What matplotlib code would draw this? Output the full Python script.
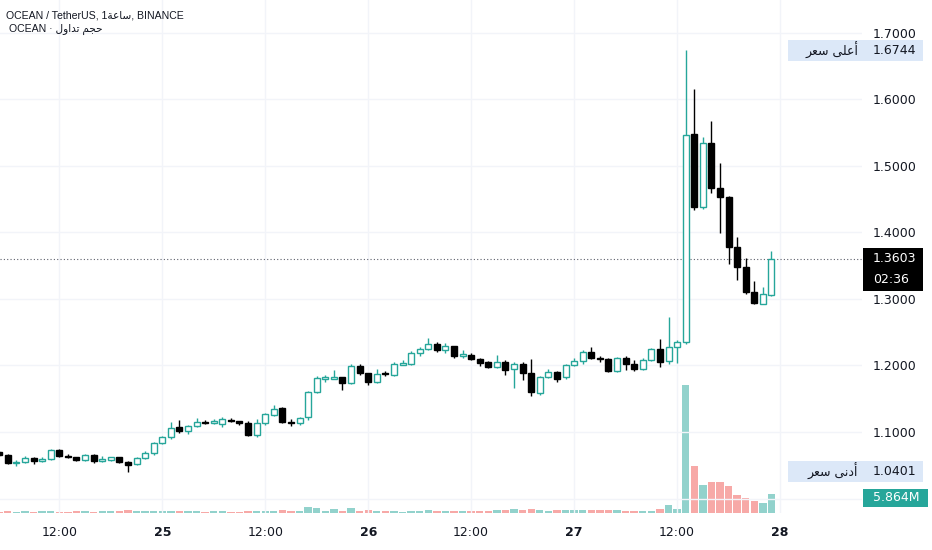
import matplotlib
matplotlib.use("Agg")
import matplotlib.pyplot as plt
import matplotlib.dates as mdates
import matplotlib.transforms as mtransforms
from matplotlib.patches import Rectangle
import pandas as pd

# hourly candles, 24 Nov 05:00 -> 27 Nov 23:00
times = pd.date_range("2023-11-24 05:00", periods=91, freq="h")

opens = [1.070, 1.065, 1.053, 1.055, 1.061, 1.056, 1.060, 1.073, 1.064, 1.062,
         1.058, 1.065, 1.057, 1.058, 1.062, 1.055, 1.052, 1.061, 1.068, 1.083,
         1.092, 1.107, 1.101, 1.109, 1.115, 1.114, 1.112, 1.118, 1.116, 1.113,
         1.095, 1.113, 1.126, 1.136, 1.115, 1.113, 1.122, 1.160, 1.180, 1.180,
         1.182, 1.174, 1.199, 1.188, 1.175, 1.189, 1.186, 1.201, 1.203, 1.219,
         1.225, 1.232, 1.224, 1.229, 1.215, 1.216, 1.210, 1.205, 1.198, 1.205,
         1.195, 1.202, 1.189, 1.159, 1.183, 1.190, 1.182, 1.201, 1.207, 1.221,
         1.211, 1.210, 1.192, 1.212, 1.202, 1.195, 1.209, 1.225, 1.207, 1.228,
         1.235, 1.548, 1.438, 1.534, 1.467, 1.453, 1.378, 1.348, 1.310, 1.293,
         1.306]
highs = [1.072, 1.067, 1.058, 1.064, 1.063, 1.062, 1.075, 1.074, 1.067, 1.063,
         1.067, 1.067, 1.064, 1.063, 1.063, 1.056, 1.062, 1.071, 1.085, 1.094,
         1.115, 1.118, 1.111, 1.121, 1.118, 1.119, 1.122, 1.121, 1.117, 1.116,
         1.120, 1.129, 1.140, 1.138, 1.120, 1.123, 1.162, 1.184, 1.185, 1.193,
         1.183, 1.203, 1.202, 1.189, 1.195, 1.192, 1.206, 1.208, 1.222, 1.228,
         1.242, 1.235, 1.234, 1.230, 1.224, 1.219, 1.211, 1.207, 1.216, 1.209,
         1.205, 1.206, 1.210, 1.184, 1.194, 1.191, 1.203, 1.212, 1.223, 1.228,
         1.215, 1.211, 1.213, 1.214, 1.209, 1.211, 1.227, 1.240, 1.273, 1.238,
         1.6744, 1.616, 1.544, 1.567, 1.505, 1.455, 1.393, 1.362, 1.327, 1.318,
         1.372]
lows = [1.064, 1.052, 1.049, 1.053, 1.052, 1.055, 1.058, 1.063, 1.061, 1.056,
        1.057, 1.054, 1.055, 1.057, 1.054, 1.0401, 1.051, 1.060, 1.066, 1.082,
        1.090, 1.099, 1.097, 1.108, 1.112, 1.112, 1.108, 1.115, 1.111, 1.094,
        1.093, 1.111, 1.124, 1.113, 1.109, 1.110, 1.118, 1.158, 1.175, 1.179,
        1.163, 1.172, 1.186, 1.171, 1.174, 1.184, 1.184, 1.200, 1.201, 1.215,
        1.223, 1.220, 1.219, 1.212, 1.211, 1.208, 1.199, 1.196, 1.196, 1.185,
        1.166, 1.178, 1.154, 1.156, 1.181, 1.175, 1.180, 1.199, 1.203, 1.210,
        1.205, 1.190, 1.190, 1.193, 1.192, 1.193, 1.207, 1.198, 1.203, 1.204,
        1.233, 1.434, 1.436, 1.459, 1.399, 1.353, 1.329, 1.308, 1.293, 1.292,
        1.304]
closes = [1.065, 1.053, 1.055, 1.061, 1.056, 1.060, 1.073, 1.064, 1.063, 1.058,
          1.065, 1.056, 1.059, 1.062, 1.055, 1.050, 1.061, 1.068, 1.083, 1.092,
          1.106, 1.101, 1.109, 1.115, 1.114, 1.116, 1.119, 1.117, 1.113, 1.095,
          1.113, 1.127, 1.135, 1.115, 1.113, 1.121, 1.160, 1.181, 1.182, 1.182,
          1.173, 1.199, 1.188, 1.175, 1.187, 1.187, 1.202, 1.204, 1.219, 1.225,
          1.232, 1.224, 1.230, 1.215, 1.217, 1.210, 1.204, 1.198, 1.205, 1.193,
          1.202, 1.189, 1.160, 1.183, 1.190, 1.180, 1.201, 1.207, 1.220, 1.212,
          1.210, 1.192, 1.211, 1.202, 1.195, 1.209, 1.225, 1.205, 1.228, 1.235,
          1.547, 1.438, 1.535, 1.467, 1.453, 1.378, 1.348, 1.310, 1.294, 1.307,
          1.3603]
# volume in millions
volumes = [0.4, 0.5, 0.4, 0.5, 0.4, 0.5, 0.5, 0.4, 0.4, 0.5,
           0.5, 0.4, 0.5, 0.5, 0.6, 0.83, 0.7, 0.7, 0.7, 0.7,
           0.7, 0.7, 0.7, 0.5, 0.4, 0.5, 0.6, 0.4, 0.4, 0.5,
           0.5, 0.6, 0.7, 0.8, 0.5, 0.6, 1.85, 1.64, 0.5, 1.23,
           0.7, 1.45, 0.7, 0.83, 0.5, 0.5, 0.7, 0.4, 0.5, 0.7,
           1.0, 0.7, 0.7, 0.7, 0.5, 0.5, 0.7, 0.6, 1.0, 1.0,
           1.23, 0.8, 1.33, 1.0, 0.6, 0.8, 1.0, 0.8, 1.0, 0.8,
           0.8, 1.0, 1.0, 0.7, 0.7, 0.7, 0.7, 1.3, 2.5, 1.3,
           39.5, 14.5, 8.5, 9.6, 9.6, 8.3, 5.5, 4.6, 3.6, 3.1,
           5.864]

grid_prices = [1.0, 1.1, 1.2, 1.3, 1.4, 1.5, 1.6, 1.7]
price_ticks = [1.1, 1.2, 1.3, 1.4, 1.5, 1.6, 1.7]  # 1.0000 sits under the volume tag
time_ticks = pd.to_datetime(["2023-11-24 12:00", "2023-11-25 00:00", "2023-11-25 12:00",
                             "2023-11-26 00:00", "2023-11-26 12:00", "2023-11-27 00:00",
                             "2023-11-27 12:00", "2023-11-28 00:00"])
time_labels = ["12:00", "25", "12:00", "26", "12:00", "27", "12:00", "28"]

high_label = 1.6744
low_label = 1.0401
last_price = 1.3603
countdown = "02:36"
last_volume = "5.864M"

# arabic strings, pre-shaped in visual order
ar_hour = "\uFE94\uFECB\uFE8E\uFEB3"
ar_volume = "\uFEDD\uFEED\uFE8D\uFEAA\uFE97 \uFEE2\uFEA0\uFEA3"
ar_high = "\uFEAE\uFECC\uFEB3 \uFEF0\uFEE0\uFECB\uFE83"
ar_low = "\uFEAE\uFECC\uFEB3 \uFEF0\uFEE7\uFEA9\uFE83"

UP = "#26a69a"
DOWN = "#000000"
TXT = "#131722"
GRID = "#f2f4f9"

W, H = 932, 550
fig = plt.figure(figsize=(W / 100, H / 100), dpi=100)
rect = [0, 37 / H, 862 / W, 513 / H]

xnum = mdates.date2num(times)
day0 = mdates.date2num(pd.Timestamp("2023-11-24"))
xlim = (day0 + 5.09 / 24, day0 + 105.55 / 24)
ylim = (0.9782, 1.7496)

# volume pane underneath
axv = fig.add_axes(rect, zorder=0)
vcols = ["#92d2cc" if c >= o else "#f7a9a7" for o, c in zip(opens, closes)]
axv.bar(xnum, volumes, width=0.86 / 24, color=vcols, linewidth=0)
axv.set_xlim(xlim)
axv.set_ylim(0, 158.3)
axv.axis("off")

ax = fig.add_axes(rect, zorder=1)
ax.set_facecolor("none")
ax.set_xlim(xlim)
ax.set_ylim(ylim)
for s in ax.spines.values():
    s.set_visible(False)

for t in grid_prices:
    ax.axhline(t, color=GRID, lw=1, zorder=0)
for t in mdates.date2num(time_ticks):
    ax.axvline(t, color=GRID, lw=1, zorder=0)

# candles
bw = 0.7 / 24
for x, o, h, l, c in zip(xnum, opens, highs, lows, closes):
    up = c >= o
    col = UP if up else DOWN
    ax.vlines(x, l, h, color=col, lw=1, zorder=2)
    ax.bar(x, max(abs(c - o), 0.0008), bottom=min(o, c), width=bw,
           facecolor="white" if up else DOWN, edgecolor=col, lw=1, zorder=3)

ax.axhline(last_price, color="#5d606b", lw=0.8, ls=(0, (1, 2)), zorder=1)

ax.yaxis.tick_right()
ax.set_yticks(price_ticks)
ax.set_yticklabels(["%.4f" % t for t in price_ticks])
ax.tick_params(axis="y", length=0, pad=8, labelsize=9, labelcolor=TXT)
ax.set_xticks(mdates.date2num(time_ticks))
ax.set_xticklabels(time_labels)
ax.tick_params(axis="x", length=0, pad=9, labelsize=9, labelcolor=TXT)
for lab in ax.get_xticklabels():
    if ":" not in lab.get_text():
        lab.set_fontweight("bold")

# labels on the price scale
tr = mtransforms.blended_transform_factory(fig.transFigure, ax.transData)
px = 1 / 665  # price per pixel
fx = lambda x: x / W

for val, ar in [(high_label, ar_high), (low_label, ar_low)]:
    fig.add_artist(Rectangle((fx(788), val - 10.5 * px), fx(135), 21 * px,
                             transform=tr, facecolor="#dce8f8", edgecolor="none", zorder=5))
    fig.text(fx(873), val, "%.4f" % val, transform=tr, ha="left", va="center",
             fontsize=9, color=TXT, zorder=6)
    fig.text(fx(858), val, ar, transform=tr, ha="right", va="center",
             fontsize=9, color=TXT, zorder=6, family="DejaVu Sans")

fig.add_artist(Rectangle((fx(863), last_price - 32 * px), fx(60), 43 * px,
                         transform=tr, facecolor="black", edgecolor="none", zorder=5))
fig.text(fx(873), last_price, "%.4f" % last_price, transform=tr, ha="left", va="center",
         fontsize=9, color="white", zorder=6)
fig.text(fx(873), last_price - 21 * px, countdown, transform=tr, ha="left", va="center",
         fontsize=9, color="white", zorder=6)

trv = mtransforms.blended_transform_factory(fig.transFigure, axv.transData)
vpx = 158.3 / 513
fig.add_artist(Rectangle((fx(863), 5.864 - 13 * vpx), fx(65), 18 * vpx,
                         transform=trv, facecolor=UP, edgecolor="none", zorder=5))
fig.text(fx(873), 5.864 - 4 * vpx, last_volume, transform=trv, ha="left", va="center",
         fontsize=9, color="white", zorder=6)

# header legend
hdr = ["Liberation Sans", "DejaVu Sans"]
fig.text(fx(6), 1 - 15 / H, "OCEAN / TetherUS, 1" + ar_hour + ", BINANCE",
         ha="left", va="center", fontsize=7.6, color=TXT, family=hdr)
fig.text(fx(9), 1 - 29 / H, "OCEAN \u00b7 " + ar_volume,
         ha="left", va="center", fontsize=7.6, color=TXT, family=hdr)

fig.savefig("out.png", dpi=100)
